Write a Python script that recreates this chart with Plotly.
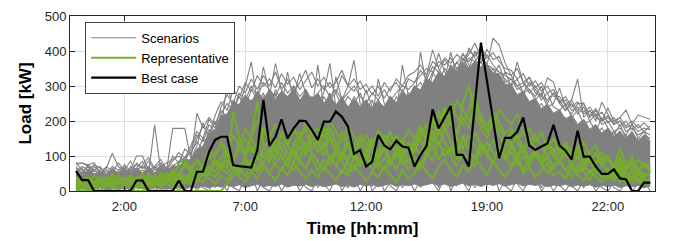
import plotly.graph_objects as go

# 15-minute time steps (hours on the drawing scale)
time_h = [i * 0.25 for i in range(96)]
tick_vals = [2, 7, 12, 17, 22]
tick_text = ["2:00", "7:00", "12:00", "19:00", "22:00"]
y_ticks = [0, 100, 200, 300, 400, 500]

# dense core of the scenario cloud (lower / upper edge)
band_lo = [4,8,2,6,10,3,7,5, 8,4,10,6,3,9,5,7, 6,10,4,12,8,14,9,15,
           11,16,12,18,10,15,19,12, 16,13,20,11,17,14,19,12, 18,12,16,20,13,17,11,19,
           14,19,12,17,21,13,18,15, 20,14,18,22,16,20,13,17, 22,15,19,13,20,16,21,14,
           18,22,14,19,16,20,12,17, 15,19,12,17,14,18,11,16, 13,17,10,15,12,16,9,14]
band_hi = [60,45,62,48,58,44,63,50, 62,48,66,52,68,50,70,56, 75,66,92,88,120,128,165,175,
           215,220,255,245,275,255,285,262, 290,262,285,270,292,258,284,262, 280,250,272,246,268,240,262,238,
           258,236,256,240,266,252,282,270, 300,288,322,310,340,328,355,340, 368,350,372,352,362,338,335,305,
           305,275,285,255,265,235,248,222, 232,205,218,190,205,176,190,165, 180,155,172,148,166,142,160,140]

scen_1 = [80,60,45,70,55,40,65,50, 45,70,55,60,50,189,60,45, 70,85,95,110,140,120,175,160,
          210,190,260,240,300,369,250,280, 230,290,260,240,300,250,270,220, 360,240,280,230,260,300,374,250,
          230,260,210,240,270,250,290,260, 300,280,330,403,350,320,360,340, 380,350,400,380,360,437,417,366,
          330,300,280,311,290,260,280,240, 230,250,210,230,190,200,170,210, 180,160,190,150,170,140,160,150]
scen_2 = [75,80,70,55,60,65,108,70, 60,55,80,65,70,50,75,60, 179,180,179,90,130,195,150,200,
          180,308,230,270,240,290,260,355, 280,250,270,240,290,260,230,270, 250,280,365,240,270,220,250,280,
          240,210,320,250,230,270,240,280, 260,397,300,340,310,350,330,370, 340,409,380,350,390,360,340,320,
          300,369,310,290,270,300,250,280, 260,230,250,220,240,200,220,190, 200,170,180,160,190,150,170,140]
scen_3 = [65,50,70,45,55,40,60,45, 55,60,100,100,60,70,55,65, 60,75,70,90,222,180,210,190,
          230,210,250,220,270,240,280,250, 270,365,290,250,270,336,280,240, 270,230,260,280,240,270,250,230,
          289,240,260,230,250,220,360,270, 290,310,280,330,394,340,310,350, 370,390,423,380,350,330,360,310,
          320,290,300,326,280,270,323,311, 250,230,260,320,210,230,200,254, 220,190,200,170,180,160,170,160]
scen_4 = [80,80,75,80,50,60,45,55, 65,50,60,70,55,60,65,70, 55,70,80,75,110,150,130,170,
          190,220,200,250,230,260,240,270, 250,280,240,340,260,240,290,250, 230,270,240,326,260,230,270,240,
          260,230,250,240,269,230,260,250, 270,290,310,290,340,320,397,330, 394,360,340,370,330,350,310,340,
          300,320,280,290,260,280,240,250, 294,240,220,250,251,210,230,200, 237,200,210,231,190,217,211,205]
scen_5 = [40,55,35,50,45,60,40,55, 50,45,60,40,55,50,45,60, 50,60,55,70,90,110,100,140,
          160,180,170,200,190,220,200,230, 210,240,220,200,230,250,210,240, 220,200,230,210,240,220,200,230,
          210,230,200,220,240,210,230,250, 240,260,280,270,300,290,310,300, 320,300,330,310,290,300,280,270,
          260,250,270,240,230,250,220,210, 200,210,190,180,200,170,160,180, 150,170,140,160,130,150,140,130]
scen_6 = [20,0,30,10,0,25,15,0, 30,10,0,20,35,0,15,25, 0,20,10,30,0,25,40,10,
          30,0,45,20,10,50,0,35, 20,40,0,30,15,45,10,0, 35,20,0,40,25,10,45,0,
          30,15,50,0,25,40,10,35, 0,30,20,45,10,55,0,40, 25,0,50,35,15,60,0,30,
          45,20,0,35,50,10,30,0, 25,40,15,0,30,20,35,10, 0,25,15,30,0,20,10,25]
scen_7 = [10,30,20,0,35,15,0,30, 0,25,40,10,0,30,20,0, 25,0,35,15,30,10,0,45,
          15,35,10,0,40,20,55,10, 0,30,50,15,40,0,25,45, 10,35,15,50,0,30,20,40,
          55,0,20,45,15,0,35,20, 40,10,55,25,0,45,30,15, 60,35,10,45,25,55,40,15,
          0,35,50,20,40,0,25,45, 15,0,30,45,10,35,0,20, 35,10,0,25,40,15,30,0]
scen_8 = [55,70,60,75,65,50,70,60, 70,60,75,65,85,60,70,80, 90,100,85,120,160,140,190,170,
          220,250,230,280,260,300,270,310, 290,270,310,280,300,270,290,260, 280,300,270,290,260,280,300,270,
          250,280,260,290,260,280,300,290, 310,330,350,340,370,360,380,350, 360,380,370,390,360,350,340,330,
          320,300,310,280,300,270,260,280, 250,260,230,240,220,230,210,200, 210,190,200,180,190,170,180,175]
scen_9 = [70,50,75,60,45,70,55,80, 60,85,55,75,95,65,80,60, 85,110,95,130,170,150,205,180,
          240,275,250,300,280,320,290,330, 300,340,290,320,280,310,345,295, 320,290,310,280,330,300,285,315,
          280,300,270,310,285,320,300,330, 340,360,330,370,355,380,365,390, 375,400,385,410,380,395,370,350,
          345,320,335,300,315,285,300,270, 270,245,260,230,250,215,235,205, 215,195,210,185,200,180,195,175]
scen_10 = [50,65,40,60,70,45,60,40, 75,55,65,85,50,70,90,60, 100,80,120,105,150,185,160,215,
           255,230,290,265,310,285,330,300, 320,295,335,305,325,290,315,340, 300,325,295,310,345,300,320,290,
           305,275,300,265,295,310,280,320, 310,345,320,355,340,375,350,365, 390,370,395,365,405,375,385,340,
           330,350,310,325,295,310,280,290, 255,270,240,255,225,240,215,225, 195,210,185,200,175,190,170,185]

rep_1 = [0,0,0,0,0,0,0,0, 0,0,0,0,0,0,0,0, 0,0,0,0,0,0,0,0,
         0,20,45,70,40,90,60,110, 80,130,100,70,120,90,140,110, 80,60,100,75,50,90,120,70,
         100,60,85,130,90,60,110,80, 120,150,100,170,130,180,140,110, 160,120,90,140,110,80,130,100,
         70,100,60,90,120,80,50,70, 90,60,40,75,55,30,60,45, 35,55,25,40,60,30,20,35]
rep_2 = [25,25,25,25,30,20,50,25, 20,30,25,45,20,30,25,40, 30,50,35,25,60,45,70,55,
         80,65,226,150,100,130,90,120, 150,110,170,130,100,150,180,120, 140,100,160,120,90,140,110,80,
         120,150,100,130,170,120,90,140, 110,160,190,140,230,170,200,150, 250,303,220,180,150,200,160,130,
         170,140,110,150,120,90,130,100, 80,110,70,100,60,90,50,75, 60,45,80,50,35,65,40,55]
rep_3 = [0,10,25,15,0,20,10,5, 15,30,10,20,50,25,15,35, 55,45,80,70,85,60,100,75,
         95,120,85,140,110,160,255,130, 100,150,120,90,130,170,110,140, 160,120,180,140,110,90,130,160,
         140,110,90,120,80,100,140,110, 130,100,160,120,180,140,110,150, 120,160,130,100,140,110,90,120,
         140,100,130,90,110,80,100,70, 90,60,80,50,70,100,60,40, 55,30,70,45,25,50,35,20]
rep_4 = [20,35,10,25,40,15,30,20, 35,20,40,30,15,45,25,35, 20,40,30,55,40,65,50,90,
         70,110,90,130,100,150,120,180, 140,110,160,130,180,150,120,170, 130,180,150,110,170,130,90,150,
         110,140,90,130,170,120,150,110, 150,180,140,200,160,230,190,170, 210,180,250,200,170,190,231,211,
         190,220,160,180,140,170,120,150, 110,140,100,120,80,110,130,90, 100,70,120,80,60,90,70,80]
rep_5 = [5,20,0,15,30,10,25,0, 20,10,35,15,0,25,40,20, 10,30,20,40,25,50,35,20,
         45,30,60,40,25,55,35,70, 50,30,65,45,80,55,35,60, 40,70,50,30,60,45,75,50,
         30,55,40,70,45,25,60,35, 50,80,55,35,70,90,60,40, 75,55,100,70,45,85,60,40,
         65,90,50,70,40,60,80,45, 55,35,70,45,30,60,40,25, 45,30,55,20,40,25,35,20]
rep_6 = [30,15,40,20,10,35,25,45, 25,40,20,10,30,15,35,50, 40,80,90,65,50,70,95,110,
         130,100,90,120,150,110,140,100, 120,90,140,110,80,130,100,150, 110,140,90,120,100,160,130,110,
         90,130,110,160,140,100,120,90, 130,170,150,190,220,180,250,210, 190,230,280,200,170,210,180,150,
         130,160,120,140,110,130,100,120, 100,130,90,110,140,100,80,110, 90,70,100,60,80,50,75,60]
rep_7 = [15,30,20,45,25,10,35,20, 40,15,30,50,20,35,10,25, 50,30,45,20,40,60,45,80,
         60,90,70,50,85,60,100,75, 55,80,100,70,60,90,65,110, 85,60,95,70,110,80,60,90,
         70,100,80,60,90,110,75,95, 80,60,100,130,90,120,100,70, 110,90,70,130,100,80,120,90,
         110,80,100,70,120,90,140,110, 80,120,95,130,100,85,110,70, 95,60,85,70,100,55,80,65]
rep_8 = [10,25,40,20,35,15,45,30, 20,45,30,15,40,25,50,35, 60,40,75,55,90,70,120,95,
         140,115,160,130,180,150,200,170, 150,190,160,130,175,145,195,165, 180,150,200,170,140,185,155,125,
         160,130,175,145,115,160,135,175, 150,185,160,210,180,240,205,260, 230,200,245,215,185,225,195,165,
         180,150,170,135,160,125,145,115, 130,100,120,90,115,85,105,80, 95,70,90,65,85,60,75,55]
rep_9 = [45,20,35,10,25,40,15,30, 10,35,20,45,30,15,40,25, 35,15,30,50,35,25,55,40,
         65,50,80,60,95,70,55,85, 100,75,60,90,110,80,65,95, 60,90,75,105,85,55,95,70,
         110,85,65,95,75,120,90,60, 95,70,110,85,140,100,125,90, 150,120,170,130,110,145,115,100,
         125,95,115,85,105,75,95,65, 85,60,80,55,75,50,70,45, 65,40,60,35,55,30,50,40]

best_case = [57,31,31,0,0,0,0,0, 0,0,30,30,0,0,0,0, 0,30,0,0,55,55,112,146,
             155,155,74,71,69,67,117,260, 129,155,205,150,179,201,200,175, 146,198,198,227,212,184,106,117,
             70,84,160,130,119,144,127,124, 70,103,129,233,179,212,243,103, 103,70,247,424,314,204,93,152,
             152,169,210,130,117,127,136,189, 130,115,90,172,98,98,70,49, 49,62,36,33,0,0,24,24]

scenarios = [scen_1, scen_2, scen_3, scen_4, scen_5, scen_6, scen_7, scen_8, scen_9, scen_10]
representatives = [rep_1, rep_2, rep_3, rep_4, rep_5, rep_6, rep_7, rep_8, rep_9]
for s in scenarios + representatives + [band_lo, band_hi, best_case]:
    assert len(s) == 96, len(s)

GRAY = "rgb(128,128,128)"
GREEN = "rgb(119,172,48)"
FONT = "Liberation Sans, Arial, Helvetica, sans-serif"

fig = go.Figure()
fig.add_trace(go.Scatter(x=time_h, y=band_lo, mode="lines", line=dict(color=GRAY, width=1),
                         showlegend=False, hoverinfo="skip"))
fig.add_trace(go.Scatter(x=time_h, y=band_hi, mode="lines", line=dict(color=GRAY, width=1),
                         fill="tonexty", fillcolor=GRAY, showlegend=False, hoverinfo="skip"))
for k, s in enumerate(scenarios):
    fig.add_trace(go.Scatter(x=time_h, y=s, mode="lines", line=dict(color=GRAY, width=1.1),
                             name="Scenarios", legendgroup="sc", showlegend=(k == 0)))
for k, s in enumerate(representatives):
    fig.add_trace(go.Scatter(x=time_h, y=s, mode="lines", line=dict(color=GREEN, width=2),
                             name="Representative", legendgroup="rep", showlegend=(k == 0)))
fig.add_trace(go.Scatter(x=time_h, y=best_case, mode="lines", line=dict(color="black", width=2.2),
                         name="Best case", cliponaxis=False))

axis_common = dict(showline=True, linecolor="#262626", linewidth=1, mirror="ticks",
                   ticks="inside", ticklen=5, tickcolor="#262626", automargin=False,
                   showgrid=True, gridcolor="rgb(223,223,223)", gridwidth=1, zeroline=False,
                   tickfont=dict(family=FONT, size=13, color="#262626"))
fig.update_xaxes(range=[-0.25, 23.95], tickvals=tick_vals, ticktext=tick_text,
                 ticklabelstandoff=3,
                 title=dict(text="<b>Time [hh:mm]</b>", font=dict(family=FONT, size=17, color="black"),
                            standoff=9), **axis_common)
fig.update_yaxes(range=[0, 500], tickvals=y_ticks,
                 title=dict(text="<b>Load [kW]</b>", font=dict(family=FONT, size=17, color="black"),
                            standoff=8), **axis_common)
fig.update_layout(
    width=673, height=241,
    margin=dict(l=70, r=18, t=16, b=50, autoexpand=False),
    paper_bgcolor="white", plot_bgcolor="white",
    font=dict(family=FONT, color="#262626"),
    legend=dict(x=0.026, y=0.967, xanchor="left", yanchor="top",
                bgcolor="white", bordercolor="#404040", borderwidth=1,
                font=dict(family=FONT, size=13, color="black"),
                itemwidth=45, tracegroupgap=0),
)
fig.write_html("out.html", config={"displayModeBar": False},
               post_script="document.body.style.margin='0';")
